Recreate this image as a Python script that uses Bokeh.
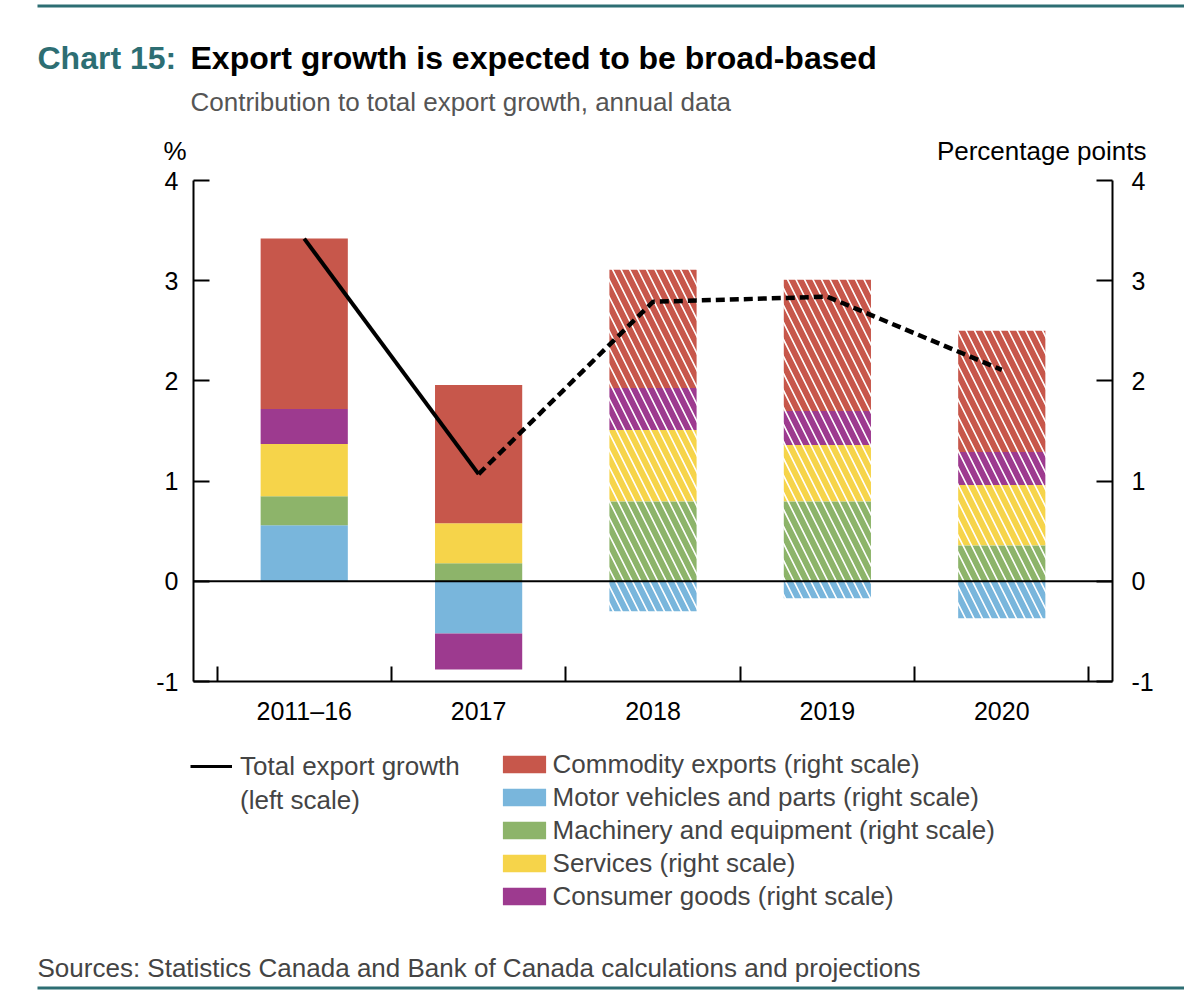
import numpy as np
from bokeh.plotting import figure
from bokeh.layouts import column
from bokeh.models import (Range1d, LinearAxis, FixedTicker, Span, Label, Legend,
                          LegendItem, ColumnDataSource, BoxAnnotation)
from bokeh.embed import file_html
from bokeh.resources import INLINE

# ---------------- data ----------------
categories = ["2011–16", "2017", "2018", "2019", "2020"]
total_growth = [3.42, 1.07, 2.79, 2.84, 2.11]           # left scale, %
commodity = [1.70, 1.38, 1.18, 1.31, 1.21]              # right scale, pp
motor_vehicles = [0.56, -0.52, -0.30, -0.17, -0.37]
machinery = [0.29, 0.18, 0.80, 0.80, 0.36]
services = [0.52, 0.40, 0.71, 0.56, 0.60]
consumer_goods = [0.35, -0.36, 0.42, 0.34, 0.33]
projected = [False, False, True, True, True]
y_ticks = [-1, 0, 1, 2, 3, 4]

series = [
    ("Motor vehicles and parts (right scale)", motor_vehicles, "#79b6dc"),
    ("Machinery and equipment (right scale)", machinery, "#8db46a"),
    ("Services (right scale)", services, "#f6d44a"),
    ("Consumer goods (right scale)", consumer_goods, "#9d3a8f"),
    ("Commodity exports (right scale)", commodity, "#c7574b"),
]
legend_order = ["Commodity exports (right scale)", "Motor vehicles and parts (right scale)",
                "Machinery and equipment (right scale)", "Services (right scale)",
                "Consumer goods (right scale)"]
colors = {n: c for n, _, c in series}

FONT = "Liberation Sans"
TEAL = "#2d6e73"
TICK_TXT = "25px"
TXT = "26px"
W = 1184
TOP_H, MAIN_H, BOT_H = 168, 572, 250


def text_fig(height):
    f = figure(width=W, height=height, output_backend="svg", toolbar_location=None,
               x_range=Range1d(0, W), y_range=Range1d(height, 0),
               x_axis_location=None, y_axis_location=None, frame_align=False,
               min_border=0, min_border_left=0, min_border_right=0,
               min_border_top=0, min_border_bottom=0)
    f.xgrid.grid_line_color = None
    f.ygrid.grid_line_color = None
    f.outline_line_color = None
    f.background_fill_color = "white"
    f.border_fill_color = "white"
    return f


def lab(f, text, x, y, size, color="black", bold=False, align="left"):
    f.add_layout(Label(x=x, y=y, text=text, text_font=FONT, text_font_size=size,
                       text_color=color, text_font_style="bold" if bold else "normal",
                       text_align=align, text_baseline="alphabetic"))


# ---------------- header ----------------
top = text_fig(TOP_H)
top.add_layout(BoxAnnotation(left=37, right=W, top=4, bottom=7, fill_color=TEAL,
                             fill_alpha=1, line_color=None))
lab(top, "Chart 15:", 37, 57, "32px", TEAL, bold=True)
lab(top, "Export growth is expected to be broad-based", 190, 57, "32px", "black", bold=True)
lab(top, "Contribution to total export growth, annual data", 190, 101, TXT, "#555555")
lab(top, "%", 163, 150, TXT)
lab(top, "Percentage points", 1146, 150, TXT, align="right")

# ---------------- main chart ----------------
p = figure(width=W, height=MAIN_H, output_backend="svg", toolbar_location=None,
           x_range=Range1d(-0.635, 4.635), y_range=Range1d(-1, 4),
           x_axis_location=None, y_axis_location=None, frame_align=False,
           min_border_left=193, min_border_right=W - 1112,
           min_border_top=180 - TOP_H, min_border_bottom=TOP_H + MAIN_H - 681)
p.extra_y_ranges = {"right": Range1d(-1, 4)}
p.xgrid.grid_line_color = None
p.ygrid.grid_line_color = None
p.outline_line_color = None
p.background_fill_color = "white"
p.border_fill_color = "white"

x = np.arange(len(categories), dtype=float)
proj = np.array(projected)
pos_base = np.zeros(len(categories))
neg_base = np.zeros(len(categories))
for name, vals, color in series:
    v = np.array(vals, dtype=float)
    bottom = np.where(v >= 0, pos_base, neg_base)
    top_v = bottom + v
    pos_base = np.where(v >= 0, top_v, pos_base)
    neg_base = np.where(v < 0, top_v, neg_base)
    src_a = ColumnDataSource(dict(x=x[~proj], bottom=bottom[~proj], top=top_v[~proj]))
    src_p = ColumnDataSource(dict(x=x[proj], bottom=bottom[proj], top=top_v[proj]))
    p.vbar(x="x", width=0.5, bottom="bottom", top="top", source=src_a,
           fill_color=color, line_color=None, y_range_name="right")
    p.vbar(x="x", width=0.5, bottom="bottom", top="top", source=src_p,
           fill_color="white", line_color=None, hatch_pattern="\\",
           hatch_color=color, hatch_scale=17, hatch_weight=6,
           y_range_name="right")

p.add_layout(Span(location=0, dimension="width", line_color="black", line_width=2))

n_hist = int((~proj).sum())
p.line(x[:n_hist], total_growth[:n_hist], line_color="black", line_width=4)
p.line(x[n_hist - 1:], total_growth[n_hist - 1:], line_color="black", line_width=4.5,
       line_dash="9 5")


def style(ax):
    ax.axis_line_width = 2
    ax.axis_line_color = "black"
    ax.major_tick_line_width = 2
    ax.major_tick_line_color = "black"
    ax.minor_tick_line_color = None
    ax.major_label_text_font = FONT
    ax.major_label_text_font_size = TICK_TXT
    ax.major_label_text_color = "black"


y_labels = {t: str(t) for t in y_ticks}
left = LinearAxis(ticker=FixedTicker(ticks=y_ticks), major_tick_in=16, major_tick_out=0,
                  major_label_standoff=15, major_label_overrides=y_labels)
style(left)
p.add_layout(left, "left")

right = LinearAxis(y_range_name="right", ticker=FixedTicker(ticks=y_ticks),
                   major_tick_in=16, major_tick_out=0, major_label_standoff=19,
                   major_label_overrides=y_labels)
style(right)
p.add_layout(right, "right")

bounds = [float(b) for b in list(x - 0.5) + [x[-1] + 0.5]]
bottom_ax = LinearAxis(ticker=FixedTicker(ticks=[float(v) for v in x], minor_ticks=bounds),
                       major_tick_in=0, major_tick_out=0, major_label_standoff=15,
                       major_label_overrides={i: c for i, c in enumerate(categories)})
style(bottom_ax)
bottom_ax.major_tick_line_color = None
bottom_ax.minor_tick_line_color = "black"
bottom_ax.minor_tick_line_width = 2
bottom_ax.minor_tick_in = 15
bottom_ax.minor_tick_out = 0
p.add_layout(bottom_ax, "below")

# ---------------- footer: legends + source ----------------
bot = text_fig(BOT_H)
nan = float("nan")
blank = lambda: ColumnDataSource(dict(x=[nan], y=[nan], top=[nan], bottom=[nan]))
line_item = bot.line("x", "y", source=blank(), line_color="black", line_width=3)
blank_item = bot.line("x", "y", source=blank(), line_alpha=0)
bar_items = {n: bot.vbar(x="x", width=1, top="top", bottom="bottom", source=blank(),
                         fill_color=colors[n], line_color=None) for n in legend_order}


def style_legend(lg):
    lg.border_line_color = None
    lg.background_fill_alpha = 0
    lg.padding = 0
    lg.margin = 0
    lg.label_text_font = FONT
    lg.label_text_font_size = TXT
    lg.label_text_color = "#444444"
    lg.glyph_height = 22
    lg.label_height = 22


leg_bars = Legend(items=[LegendItem(label=n, renderers=[bar_items[n]]) for n in legend_order],
                  location=(496.6, 78.5))
style_legend(leg_bars)
leg_bars.glyph_width = 54
leg_bars.label_standoff = 2
leg_bars.spacing = 2
bot.add_layout(leg_bars, "center")

leg_line = Legend(items=[LegendItem(label="Total export growth", renderers=[line_item]),
                         LegendItem(label="(left scale)", renderers=[blank_item])],
                  location=(190, 174.5))
style_legend(leg_line)
leg_line.glyph_width = 42
leg_line.label_standoff = 8
leg_line.spacing = 3
bot.add_layout(leg_line, "center")

lab(bot, "Sources: Statistics Canada and Bank of Canada calculations and projections",
    37, 967 - 740, TXT, "#444444")
bot.add_layout(BoxAnnotation(left=37, right=W, top=246, bottom=249, fill_color=TEAL,
                             fill_alpha=1, line_color=None))

layout = column(top, p, bot, spacing=0)
open("out.html", "w").write(file_html(layout, INLINE))
